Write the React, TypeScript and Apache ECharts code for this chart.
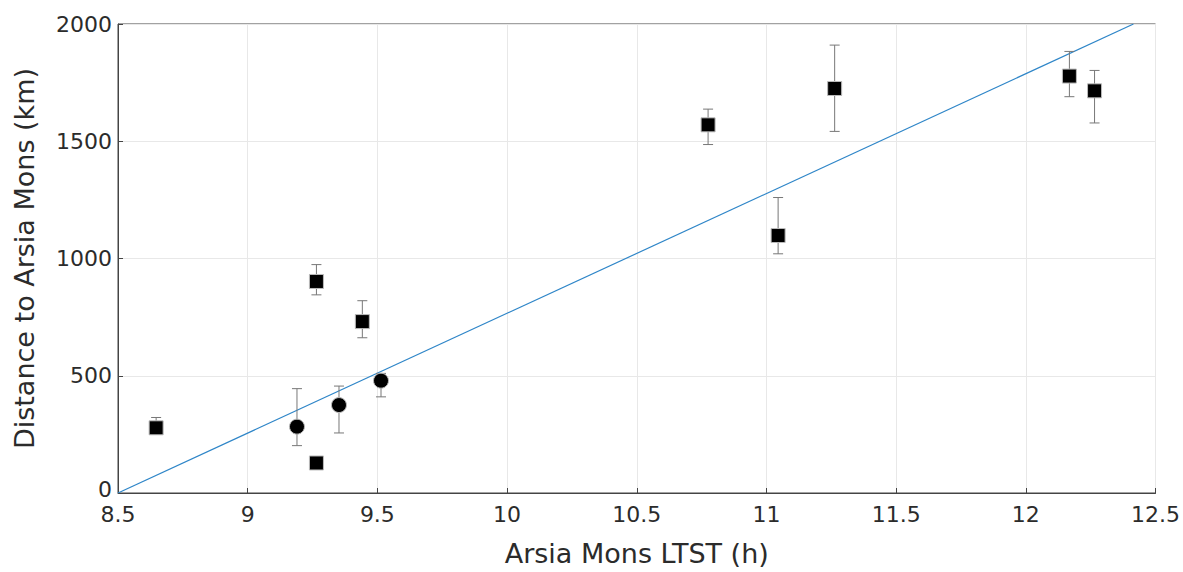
import React, { useEffect, useRef } from "react";
import * as echarts from "echarts";

// Squares: [LTST h, distance km, upper, lower]
const squareX = [8.647, 9.265, 9.265, 9.442, 10.775, 11.045, 11.263, 12.168, 12.265];
const squareY = [278, 902, 128, 731, 1570, 1098, 1725, 1778, 1715];
const squareHi = [322, 974, null, 820, 1637, 1260, 1910, 1883, 1802];
const squareLo = [252, 845, null, 662, 1486, 1020, 1542, 1690, 1578];

// Circles
const circleX = [9.19, 9.352, 9.514];
const circleY = [283, 375, 479];
const circleHi = [445, 456, 510];
const circleLo = [202, 256, 410];

// Fit line endpoints
const fitX = [8.5, 12.415];
const fitY = [0, 2000];

const xTicks = [8.5, 9, 9.5, 10, 10.5, 11, 11.5, 12, 12.5];
const yTicks = [0, 500, 1000, 1500, 2000];

export default function App() {
  const ref = useRef<HTMLDivElement>(null);
  useEffect(() => {
    const chart = echarts.init(ref.current!, null, { renderer: "svg" });
    const errData: any[] = [];
    squareX.forEach((x, i) => {
      if (squareHi[i] != null) errData.push([x, squareLo[i], squareHi[i]]);
    });
    circleX.forEach((x, i) => errData.push([x, circleLo[i], circleHi[i]]));

    const font = "DejaVu Sans";
    const txt = "#2b2b2b";
    chart.setOption({
      animation: false,
      textStyle: { fontFamily: font },
      grid: {
        left: 118,
        right: 26,
        top: 24,
        bottom: 73,
        show: true,
        borderColor: "#444",
        borderWidth: 1,
        backgroundColor: "#fff",
      },
      xAxis: {
        type: "value",
        min: 8.5,
        max: 12.5,
        interval: 0.5,
        name: "Arsia Mons LTST (h)",
        nameLocation: "middle",
        nameGap: 47,
        nameTextStyle: { fontSize: 27, color: txt, fontFamily: font },
        axisLine: { show: true, onZero: false, lineStyle: { color: "#444" } },
        axisTick: { show: true, inside: true, length: 5, lineStyle: { color: "#444" } },
        axisLabel: {
          fontSize: 22,
          lineHeight: 18,
          color: txt,
          margin: 12,
          formatter: (v: number) => (xTicks.includes(v) ? String(v) : ""),
        },
        splitLine: { show: true, lineStyle: { color: "#e8e8e8" } },
      },
      yAxis: {
        type: "value",
        min: 0,
        max: 2000,
        interval: 500,
        name: "Distance to Arsia Mons (km)",
        nameLocation: "middle",
        nameGap: 80,
        nameTextStyle: { fontSize: 27, color: txt, fontFamily: font },
        axisLine: { show: true, lineStyle: { color: "#444" } },
        axisTick: { show: true, inside: true, length: 5, lineStyle: { color: "#444" } },
        axisLabel: {
          fontSize: 22,
          lineHeight: 16,
          color: txt,
          margin: 6,
          formatter: (v: number) =>
            v === 0 ? "{z|0}" : yTicks.includes(v) ? String(v) : "",
          rich: {
            z: { fontSize: 22, lineHeight: 16, color: txt, fontFamily: font, padding: [0, 0, 8, 0] },
          },
        },
        splitLine: { show: true, lineStyle: { color: "#e8e8e8" } },
      },
      series: [
        {
          type: "line",
          data: fitX.map((x, i) => [x, fitY[i]]),
          symbol: "none",
          lineStyle: { color: "#2f86c8", width: 1.2 },
          z: 2,
        },
        {
          type: "custom",
          data: errData,
          z: 3,
          renderItem: (params: any, api: any) => {
            const x = api.value(0);
            const lo = api.coord([x, api.value(1)]);
            const hi = api.coord([x, api.value(2)]);
            const w = 5;
            const style = { stroke: "#777", lineWidth: 1 };
            return {
              type: "group",
              children: [
                { type: "line", shape: { x1: lo[0], y1: lo[1], x2: hi[0], y2: hi[1] }, style },
                { type: "line", shape: { x1: lo[0] - w, y1: lo[1], x2: lo[0] + w, y2: lo[1] }, style },
                { type: "line", shape: { x1: hi[0] - w, y1: hi[1], x2: hi[0] + w, y2: hi[1] }, style },
              ],
            };
          },
        },
        {
          type: "scatter",
          data: squareX.map((x, i) => [x, squareY[i]]),
          symbol: "rect",
          symbolSize: 14,
          itemStyle: { color: "#000", borderColor: "#bbb", borderWidth: 1, opacity: 1 },
          z: 4,
        },
        {
          type: "scatter",
          data: circleX.map((x, i) => [x, circleY[i]]),
          symbol: "circle",
          symbolSize: 15,
          itemStyle: { color: "#000", borderColor: "#bbb", borderWidth: 1, opacity: 1 },
          z: 4,
        },
      ],
    });
    return () => chart.dispose();
  }, []);
  return <div ref={ref} style={{ width: 1183, height: 572, position: "absolute", left: 0, top: 0 }} />;
}
